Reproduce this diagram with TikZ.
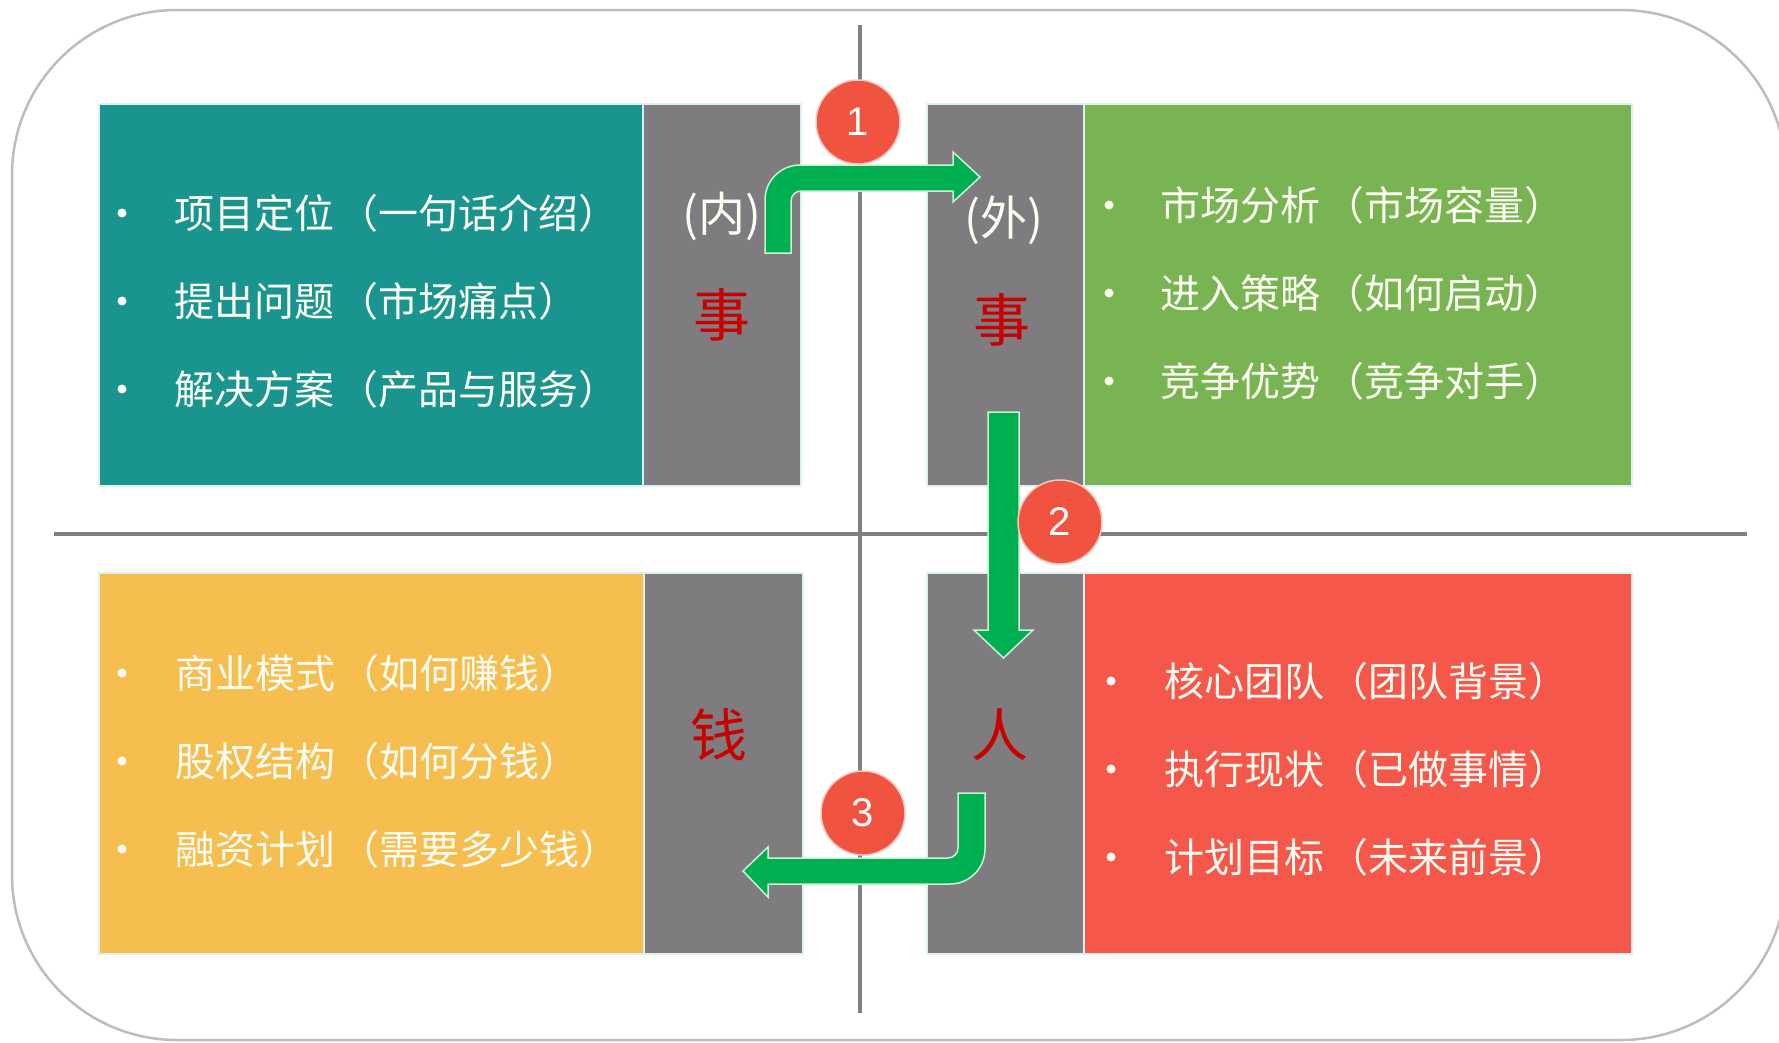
\documentclass[tikz,border=0pt]{standalone}
\usepackage{fontspec}
\setmainfont{Noto Sans CJK SC}
\newfontfamily\cjk{Noto Sans CJK SC}
\newfontfamily\numfont{Liberation Sans}
\newcommand{\lpar}{\hspace{0.12em}（}
\definecolor{tealbox}{HTML}{1A948F}
\definecolor{graybox}{HTML}{7F7C80}
\definecolor{greenbox}{HTML}{79B452}
\definecolor{yellowbox}{HTML}{F5BE4E}
\definecolor{redbox}{HTML}{F5574A}
\definecolor{circred}{HTML}{F0533F}
\definecolor{circedge}{HTML}{F9C8BC}
\definecolor{arrgreen}{HTML}{00B050}
\definecolor{arredge}{HTML}{C8F2D4}
\definecolor{darkred}{HTML}{C80000}
\definecolor{txt}{HTML}{FDFCF2}
\definecolor{linegray}{HTML}{7F7F7F}
\definecolor{framegray}{HTML}{BDBDBD}
\definecolor{boxedge}{HTML}{DDF2F0}
\begin{document}
\begin{tikzpicture}[x=1pt,y=-1pt,
  panel/.style={draw=boxedge,line width=1.2pt},
  item/.style={anchor=west,inner sep=0pt,text=txt,font=\cjk\fontsize{40}{44}\selectfont},
  bul/.style={circle,fill=txt,inner sep=0pt,minimum size=9pt},
  side/.style={inner sep=0pt,text=txt,font=\cjk\fontsize{47}{50}\selectfont},
  big/.style={inner sep=0pt,text=darkred,font=\cjk\fontsize{57}{60}\selectfont},
  num/.style={circle,fill=circred,draw=circedge,line width=1.5pt,minimum size=84pt,inner sep=0pt,text=white,font=\numfont\fontsize{40}{44}\selectfont},
  bigarrow/.style={fill=arrgreen,draw=arredge,line width=1.5pt,line join=miter}
]
\useasboundingbox (0,0) rectangle (1779,1042);
\fill[white] (0,0) rectangle (1779,1042);
% outer frame
\draw[framegray,line width=2.5pt,rounded corners=165pt] (12,10) rectangle (1786,1040);
% cross lines
\draw[linegray,line width=4pt] (860,25) -- (860,1013);
\draw[linegray,line width=4pt] (54,534) -- (1747,534);
% panels
\path[panel,fill=tealbox] (99,104) rectangle (643,486);
\path[panel,fill=graybox] (643,104) rectangle (801,486);
\path[panel,fill=graybox] (927,104) rectangle (1084,486);
\path[panel,fill=greenbox] (1084,104) rectangle (1632,486);
\path[panel,fill=yellowbox] (99,573) rectangle (644,954);
\path[panel,fill=graybox] (644,573) rectangle (803,954);
\path[panel,fill=graybox] (927,573) rectangle (1084,954);
\path[panel,fill=redbox] (1084,573) rectangle (1632,954);
% teal list
\node[bul] (b11) at (122,213) {};
\node[item] (t11) at (174,213) {项目定位\lpar 一句话介绍）};
\node[bul] (b12) at (122,301) {};
\node[item] (t12) at (174,301) {提出问题\lpar 市场痛点）};
\node[bul] (b13) at (122,389) {};
\node[item] (t13) at (174,389) {解决方案\lpar 产品与服务）};
% green list
\node[bul] (b21) at (1109,205) {};
\node[item] (t21) at (1160,205) {市场分析\lpar 市场容量）};
\node[bul] (b22) at (1109,293) {};
\node[item] (t22) at (1160,293) {进入策略\lpar 如何启动）};
\node[bul] (b23) at (1109,381) {};
\node[item] (t23) at (1160,381) {竞争优势\lpar 竞争对手）};
% yellow list
\node[bul] (b31) at (122,673) {};
\node[item] (t31) at (175,673) {商业模式\lpar 如何赚钱）};
\node[bul] (b32) at (122,761) {};
\node[item] (t32) at (175,761) {股权结构\lpar 如何分钱）};
\node[bul] (b33) at (122,849) {};
\node[item] (t33) at (175,849) {融资计划\lpar 需要多少钱）};
% red list
\node[bul] (b41) at (1111,681) {};
\node[item] (t41) at (1164,681) {核心团队\lpar 团队背景）};
\node[bul] (b42) at (1111,769) {};
\node[item] (t42) at (1164,769) {执行现状\lpar 已做事情）};
\node[bul] (b43) at (1111,857) {};
\node[item] (t43) at (1164,857) {计划目标\lpar 未来前景）};
% side labels
\node[side] (nei) at (722,216) {(内)};
\node[big] (shi1) at (722,315) {事};
\node[side] (wai) at (1004,220) {(外)};
\node[big] (shi2) at (1002,320) {事};
\node[big] (qian) at (719,735) {钱};
\node[big] (ren) at (1000,735) {人};
% arrows
\path[bigarrow] (765,253) -- (765,200) .. controls (765,180.7) and (780.7,165) .. (800,165)
  -- (953,165) -- (953,152) -- (980,177) -- (953,202) -- (953,191) -- (801,191)
  .. controls (795.5,191) and (791,195.5) .. (791,201) -- (791,253) -- cycle;
\path[bigarrow] (988,412) -- (1019,412) -- (1019,630) -- (1033,630) -- (1003.5,658)
  -- (974,630) -- (988,630) -- cycle;
\path[bigarrow] (958,793) -- (985,793) -- (985,849) .. controls (985,868.3) and (969.3,884) .. (950,884)
  -- (768,884) -- (768,897) -- (743,871) -- (768,847) -- (768,858) -- (948,858)
  .. controls (953.5,858) and (958,853.5) .. (958,848) -- cycle;
% numbered circles
\node[num] (c1) at (858,122) {1};
\node[num] (c2) at (1060,522) {2};
\node[num] (c3) at (863,813) {3};
\end{tikzpicture}
\end{document}
